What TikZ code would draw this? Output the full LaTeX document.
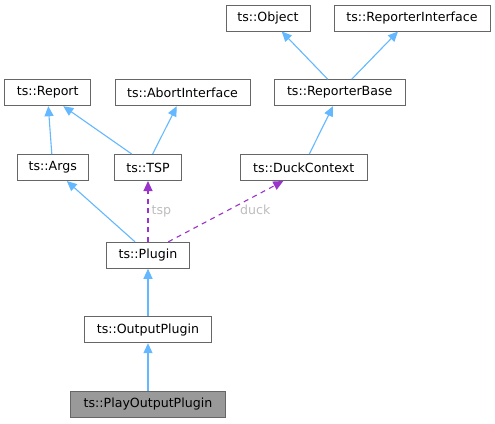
\documentclass[tikz,border=0pt]{standalone}
\usepackage{fontspec}
\setmainfont{DejaVu Sans}
\usetikzlibrary{arrows.meta}
\definecolor{edgeblue}{HTML}{63B8FF}
\definecolor{edgepurple}{HTML}{9A32CD}
\definecolor{boxborder}{HTML}{666666}
\definecolor{labelgrey}{HTML}{BDBDBD}
\definecolor{hlfill}{HTML}{999999}
\begin{document}
\begin{tikzpicture}[x=1pt,y=-1pt,
  cls/.style={draw=boxborder,line width=1pt,fill=white,minimum height=26pt,inner sep=0pt,
    font=\fontsize{12.6}{15}\selectfont,text=black},
  hl/.style={cls,fill=hlfill},
  inh/.style={draw=edgeblue,line width=1.1pt,-{Triangle[length=10pt,width=9pt]}},
  use/.style={draw=edgepurple,line width=1.1pt,dash pattern=on 5pt off 4.5pt,-{Triangle[length=10pt,width=9pt]}},
  lbl/.style={text=labelgrey,font=\fontsize{12.6}{15}\selectfont,inner sep=0pt}]
\useasboundingbox[fill=white] (0,0) rectangle (495,423);
\node[cls,minimum width=84pt] (obj) at (268,18) {ts::Object};
\node[cls,minimum width=156pt] (ri) at (412,18) {ts::ReporterInterface};
\node[cls,minimum width=86pt] (rep) at (47.7,92.7) {ts::Report};
\node[cls,minimum width=135pt] (abort) at (182.5,92.7) {ts::AbortInterface};
\node[cls,minimum width=131pt] (rb) at (339.7,92.7) {ts::ReporterBase};
\node[cls,minimum width=71pt] (args) at (52.8,167.5) {ts::Args};
\node[cls,minimum width=67pt] (tsp) at (148,167.5) {ts::TSP};
\node[cls,minimum width=127pt] (duck) at (303.7,167.5) {ts::DuckContext};
\node[cls,minimum width=83pt] (plugin) at (148,255.3) {ts::Plugin};
\node[cls,minimum width=127pt] (out) at (148,329.7) {ts::OutputPlugin};
\node[hl,minimum width=155pt] (play) at (148,404.5) {ts::PlayOutputPlugin};
% inheritance
\draw[inh] ([xshift=-12pt]rb.north) -- ([xshift=13.7pt]obj.south);
\draw[inh] ([xshift=12pt]rb.north) -- ([xshift=-14pt]ri.south);
\draw[inh] ([xshift=-1pt]args.north) -- ([xshift=0.6pt]rep.south);
\draw[inh] ([xshift=-16.3pt]tsp.north) -- ([xshift=15.6pt]rep.south);
\draw[inh] ([xshift=4.7pt]tsp.north) -- ([xshift=-5.8pt]abort.south);
\draw[inh] ([xshift=5.6pt]duck.north) -- ([xshift=-6.7pt]rb.south);
\draw[inh] ([xshift=-13pt]plugin.north) -- ([xshift=14pt]args.south);
\draw[inh] (out.north) -- (plugin.south);
\draw[inh] (play.north) -- (out.south);
% usage
\draw[use] (plugin.north) -- (tsp.south);
\draw[use] ([xshift=20.3pt]plugin.north) -- ([xshift=-20.4pt]duck.south);
\node[lbl,anchor=base west] (tsplbl) at (151.5,214.5) {tsp};
\node[lbl,anchor=base west] (ducklbl) at (240,214.5) {duck};
\end{tikzpicture}
\end{document}
